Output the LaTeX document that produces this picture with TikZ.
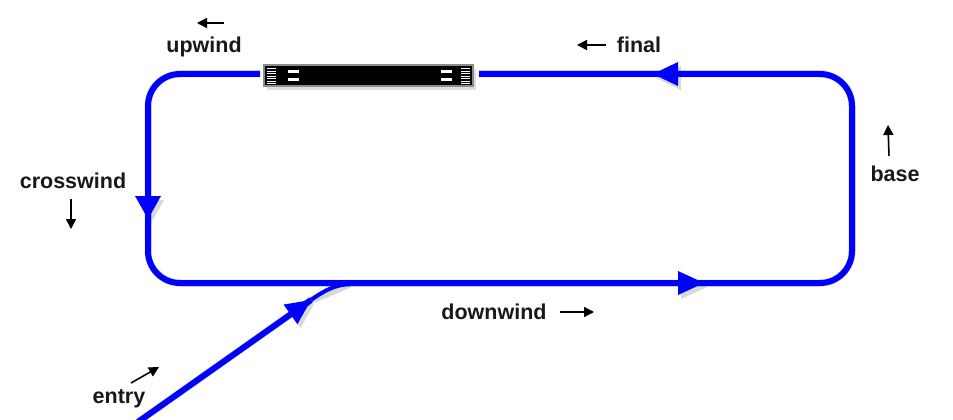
\documentclass[tikz,border=0pt]{standalone}
\usepackage{fontspec}
\setmainfont{Liberation Sans}
\usetikzlibrary{arrows.meta}
\definecolor{pathblue}{RGB}{0,0,255}
\definecolor{txt}{RGB}{25,25,25}
\tikzset{
  circuit/.style={draw=pathblue, line width=6pt, rounded corners=32pt},
  pshadow/.style={draw=black!60, opacity=0.25, line width=7pt, rounded corners=32pt, shift={(3pt,-4pt)}},
  tipfill/.style={fill=pathblue},
  tipshadow/.style={fill=black!60, opacity=0.25, shift={(3pt,-4pt)}},
  lbl/.style={font=\bfseries\fontsize{21.5}{24}\selectfont, text=txt, inner sep=0pt},
  wind/.style={draw=black, line width=1.5pt, -{Triangle[length=10pt,width=10pt]}},
  windshadow/.style={draw=black!60, opacity=0.25, line width=1.8pt, -{Triangle[length=10pt,width=10pt]}, shift={(3pt,-4pt)}},
}
\begin{document}
\begin{tikzpicture}[x=1pt,y=1pt]
\useasboundingbox (0,0) rectangle (953,-420);
\fill[white] (0,0) rectangle (953,-420);
% named corner points
\coordinate (rwL) at (260,-74);
\coordinate (rwR) at (479,-74);
\coordinate (cTL) at (148,-74);
\coordinate (cBL) at (148,-283);
\coordinate (cBR) at (852,-283);
\coordinate (cTR) at (852,-74);
\coordinate (eS) at (138,-422);
\coordinate (eT) at (311,-300);
\coordinate (eJ) at (350,-284);
% shadows
\draw[pshadow] (rwL) -- (cTL) -- (cBL) -- (cBR) -- (cTR) -- (rwR);
\draw[pshadow, rounded corners=0pt] (eS) -- (eT) .. controls (325,-290) and (335,-285) .. (eJ);
\fill[tipshadow] (653,-74) -- (678,-62) -- (678,-86) -- cycle;
\fill[tipshadow] (148,-219) -- (135,-196) -- (161,-196) -- cycle;
\fill[tipshadow] (704,-283) -- (678,-271) -- (678,-295) -- cycle;
\fill[tipshadow] (311,-300) -- (283.6,-304.6) -- (297.4,-324.2) -- cycle;
% circuit
\draw[circuit] (rwL) -- (cTL) -- (cBL) -- (cBR) -- (cTR) -- (rwR);
\draw[draw=pathblue, line width=6pt] (eS) -- (eT);
\draw[draw=pathblue, line width=4pt] (eT) .. controls (325,-290) and (335,-285) .. (eJ);
\fill[tipfill] (653,-74) -- (678,-62) -- (678,-86) -- cycle;
\fill[tipfill] (148,-219) -- (135,-196) -- (161,-196) -- cycle;
\fill[tipfill] (704,-283) -- (678,-271) -- (678,-295) -- cycle;
\fill[tipfill] (311,-300) -- (283.6,-304.6) -- (297.4,-324.2) -- cycle;
% runway
\fill[black!25, opacity=0.5] (267,-69) rectangle (476,-90);
\draw[fill=black, draw=black!45, line width=1.5pt] (264,-65) rectangle (473,-86);
\foreach \yy in {-68.5,-71,-73.5,-76,-78.5,-81,-83.5}{
  \draw[white, line width=0.9pt] (267,\yy) -- (276,\yy);
  \draw[white, line width=0.9pt] (461,\yy) -- (470,\yy);
}
\fill[white] (288,-70) rectangle (299,-73);
\fill[white] (288,-78) rectangle (299,-81);
\fill[white] (441,-70) rectangle (452,-73);
\fill[white] (441,-78) rectangle (452,-81);
% labels
\node[lbl] (lup) at (204,-47) {upwind};
\node[lbl] (lfin) at (639,-45) {final};
\node[lbl] (lcross) at (73,-181) {crosswind};
\node[lbl] (lbase) at (895,-174) {base};
\node[lbl] (ldown) at (494,-312) {downwind};
\node[lbl] (lent) at (119,-399) {entry};
% wind arrows
\coordinate (a1s) at (224,-23); \coordinate (a1e) at (197,-23);
\coordinate (a2s) at (606,-45); \coordinate (a2e) at (577,-45);
\coordinate (a3s) at (71,-199); \coordinate (a3e) at (71,-229);
\coordinate (a4s) at (889,-156); \coordinate (a4e) at (888,-125);
\coordinate (a5s) at (560,-312); \coordinate (a5e) at (594,-312);
\coordinate (a6s) at (131,-383); \coordinate (a6e) at (159,-367);
\foreach \n in {1,...,6}{\draw[windshadow] (a\n s) -- (a\n e);}
\foreach \n in {1,...,6}{\draw[wind] (a\n s) -- (a\n e);}
\end{tikzpicture}
\end{document}
